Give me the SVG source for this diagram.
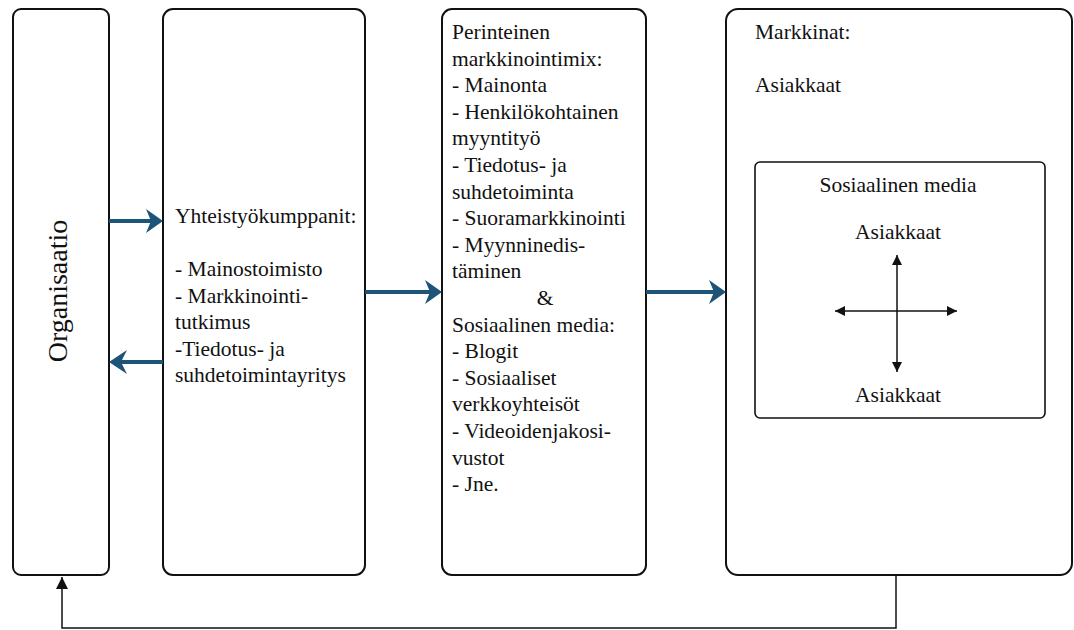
<svg xmlns="http://www.w3.org/2000/svg" width="1074" height="630" viewBox="0 0 1074 630">
<defs>
<style>
.box{fill:#fff;stroke:#111;stroke-width:2}
.inner{fill:#fff;stroke:#111;stroke-width:1.6}
.t{font-size:21.5px;fill:#111}
.big{font-size:28px}
.mid{text-anchor:middle}
.blue{stroke:#1d5477;stroke-width:4;fill:none}
.bhead{fill:#1d5477}
.thin{stroke:#111;stroke-width:1.5;fill:none}
</style>
<marker id="tri" viewBox="0 0 10 10" refX="10" refY="5" markerWidth="10" markerHeight="10" markerUnits="userSpaceOnUse" orient="auto">
<path d="M0,0 L10,5 L0,10 Z" fill="#111"/>
</marker>
<marker id="tri2" viewBox="0 0 10 10" refX="10" refY="5" markerWidth="12" markerHeight="12" markerUnits="userSpaceOnUse" orient="auto">
<path d="M0,0 L10,5 L0,10 Z" fill="#111"/>
</marker>
</defs>
<rect width="1074" height="630" fill="#fff"/>
<g font-family="Liberation Serif, Times New Roman, DejaVu Serif, serif">
<g id="organisaatio">
<rect class="box" x="13" y="9" width="96" height="566" rx="8"/>
<text class="t big mid" transform="translate(67,291) rotate(-90)">Organisaatio</text>
</g>

<g id="yhteistyokumppanit">
<rect class="box" x="163" y="9" width="202" height="566" rx="10"/>
<text class="t" x="175" y="223">Yhteistyökumppanit:</text>
<text class="t" x="175" y="276">- Mainostoimisto</text>
<text class="t" x="175" y="302.5">- Markkinointi-</text>
<text class="t" x="175" y="329">tutkimus</text>
<text class="t" x="175" y="355.5">-Tiedotus- ja</text>
<text class="t" x="175" y="382">suhdetoimintayritys</text>
</g>

<g id="markkinointimix">
<rect class="box" x="442" y="9" width="204" height="566" rx="10"/>
<text class="t" x="452" y="39">Perinteinen</text>
<text class="t" x="452" y="65.6">markkinointimix:</text>
<text class="t" x="452" y="92.2">- Mainonta</text>
<text class="t" x="452" y="118.8">- Henkilökohtainen</text>
<text class="t" x="452" y="145.4">myyntityö</text>
<text class="t" x="452" y="172">- Tiedotus- ja</text>
<text class="t" x="452" y="198.6">suhdetoiminta</text>
<text class="t" x="452" y="225.2">- Suoramarkkinointi</text>
<text class="t" x="452" y="251.8">- Myynninedis-</text>
<text class="t" x="452" y="278.4">täminen</text>
<text class="t mid" x="545" y="305">&amp;</text>
<text class="t" x="452" y="331.6">Sosiaalinen media:</text>
<text class="t" x="452" y="358.2">- Blogit</text>
<text class="t" x="452" y="384.8">- Sosiaaliset</text>
<text class="t" x="452" y="411.4">verkkoyhteisöt</text>
<text class="t" x="452" y="438">- Videoidenjakosi-</text>
<text class="t" x="452" y="464.6">vustot</text>
<text class="t" x="452" y="491.2">- Jne.</text>
</g>

<g id="markkinat">
<rect class="box" x="726" y="9" width="346" height="566" rx="12"/>
<text class="t" x="755" y="39">Markkinat:</text>
<text class="t" x="755" y="92">Asiakkaat</text>
</g>

<g id="sosiaalinen-media">
<rect class="inner" x="755" y="162" width="290" height="256" rx="5"/>
<text class="t mid" x="898" y="192">Sosiaalinen media</text>
<text class="t mid" x="898" y="239">Asiakkaat</text>
<text class="t mid" x="898" y="402">Asiakkaat</text>
</g>
</g>
<g id="connectors">
<line class="blue" x1="109" y1="221" x2="152" y2="221"/>
<path class="bhead" d="M163,221 L146,209 L151,221 L146,233 Z"/>
<line class="blue" x1="163" y1="362" x2="121" y2="362"/>
<path class="bhead" d="M109,362 L127,350 L121,362 L127,374 Z"/>
<line class="blue" x1="365" y1="292" x2="431" y2="292"/>
<path class="bhead" d="M442,292 L425,280 L430,292 L425,304 Z"/>
<line class="blue" x1="646" y1="292" x2="715" y2="292"/>
<path class="bhead" d="M726,292 L709,280 L714,292 L709,304 Z"/>

<polyline class="thin" points="896,575 896,628 62,628 62,577" marker-end="url(#tri2)"/>

<line class="thin" x1="897" y1="311" x2="897" y2="255" marker-end="url(#tri)"/>
<line class="thin" x1="897" y1="311" x2="897" y2="372" marker-end="url(#tri)"/>
<line class="thin" x1="897" y1="311" x2="835" y2="311" marker-end="url(#tri)"/>
<line class="thin" x1="897" y1="311" x2="957" y2="311" marker-end="url(#tri)"/>
</g>
</svg>
